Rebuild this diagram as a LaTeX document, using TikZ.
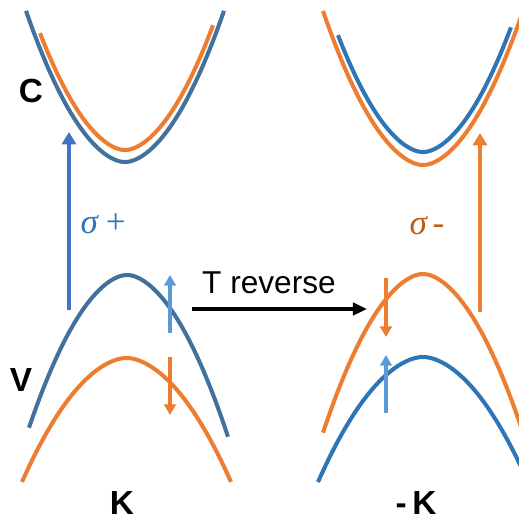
\documentclass[tikz,border=0pt]{standalone}
\usepackage{fontspec}
\setmainfont{Liberation Sans}
\newfontfamily\sigmafont{Liberation Serif}
\usetikzlibrary{arrows.meta}
\definecolor{VBBlue}{HTML}{41719C}
\definecolor{VBBlueR}{HTML}{2E75B6}
\definecolor{VBOrange}{HTML}{ED7D31}
\definecolor{VBPump}{HTML}{4472C4}
\definecolor{VBSpin}{HTML}{5B9BD5}
\definecolor{VBSigOr}{HTML}{C55A11}

\begin{document}
\begin{tikzpicture}[
  x=0.02cm, y=-0.02cm,
  declare function={bshape(\t)=0.0135*\t*\t+0.21*(sqrt(\t*\t+100)-10);},
  vbband/.style={line width=2.3pt},
  vblabel/.style={font=\fontsize{19}{22}\selectfont\bfseries, inner sep=0pt},
  vbsigma/.style={font=\fontsize{20}{24}\selectfont\sigmafont\itshape, inner sep=0pt},
  vbpump/.style={-{Triangle[length=7pt,width=8pt]}, line width=2.4pt},
  vbspin/.style={-{Triangle[length=6pt,width=6.5pt]}, line width=2pt},
  vbarrow/.style={-{Triangle[length=8pt,width=7pt]}, line width=2.3pt, black}
]
\clip (0,0) rectangle (519,522);

% K valley
\draw[vbband, VBBlue] plot[domain=26:224, samples=80] (\x, {162-1.0*bshape(\x-125)});
\draw[vbband, VBOrange] plot[domain=40:213, samples=80] (\x, {150-1.03*bshape(\x-125)});
\draw[vbband, VBBlue] plot[domain=29:228, samples=80] (\x, {275+1.03*bshape(\x-127)});
\draw[vbband, VBOrange] plot[domain=22:231, samples=80] (\x, {358+0.74*bshape(\x-126.5)});

% -K valley
\draw[vbband, VBOrange] plot[domain=323:530, samples=80] (\x, {165-1.0*bshape(\x-423)});
\draw[vbband, VBBlueR] plot[domain=338:511, samples=80] (\x, {152-1.03*bshape(\x-423)});
\draw[vbband, VBOrange] plot[domain=323:530, samples=80] (\x, {274+1.03*bshape(\x-423)});
\draw[vbband, VBBlueR] plot[domain=318:530, samples=80] (\x, {357+0.74*bshape(\x-423)});

% transitions and spins
\coordinate (pumpK0) at (69,310);
\coordinate (pumpK1) at (69,132);
\coordinate (pumpM0) at (480,312);
\coordinate (pumpM1) at (480,133);
\coordinate (spinKu0) at (170,333);
\coordinate (spinKu1) at (170,275);
\coordinate (spinKd0) at (170,357);
\coordinate (spinKd1) at (170,415);
\coordinate (spinMd0) at (386,278);
\coordinate (spinMd1) at (386,337);
\coordinate (spinMu0) at (386,413);
\coordinate (spinMu1) at (386,355);
\coordinate (trev0) at (192,309);
\coordinate (trev1) at (367,309);

\draw[vbpump, VBPump] (pumpK0) -- (pumpK1);
\draw[vbpump, VBOrange] (pumpM0) -- (pumpM1);
\draw[vbspin, VBSpin] (spinKu0) -- (spinKu1);
\draw[vbspin, VBOrange] (spinKd0) -- (spinKd1);
\draw[vbspin, VBOrange] (spinMd0) -- (spinMd1);
\draw[vbspin, VBSpin] (spinMu0) -- (spinMu1);
\draw[vbarrow] (trev0) -- (trev1);

\node[anchor=base, font=\fontsize{18}{22}\selectfont] (trev) at (269,293) {T reverse};
\node[vbsigma, text=VBBlueR] (sigp) at (104,224) {σ\,+};
\node[vbsigma, text=VBSigOr] (sigm) at (427,226) {σ\,-};
\node[vblabel] (labC) at (31,91) {C};
\node[vblabel] (labV) at (21,380) {V};
\node[vblabel] (labK) at (122,503) {K};
\node[vblabel] (labMK) at (416,503) {-\,K};
\end{tikzpicture}
\end{document}
